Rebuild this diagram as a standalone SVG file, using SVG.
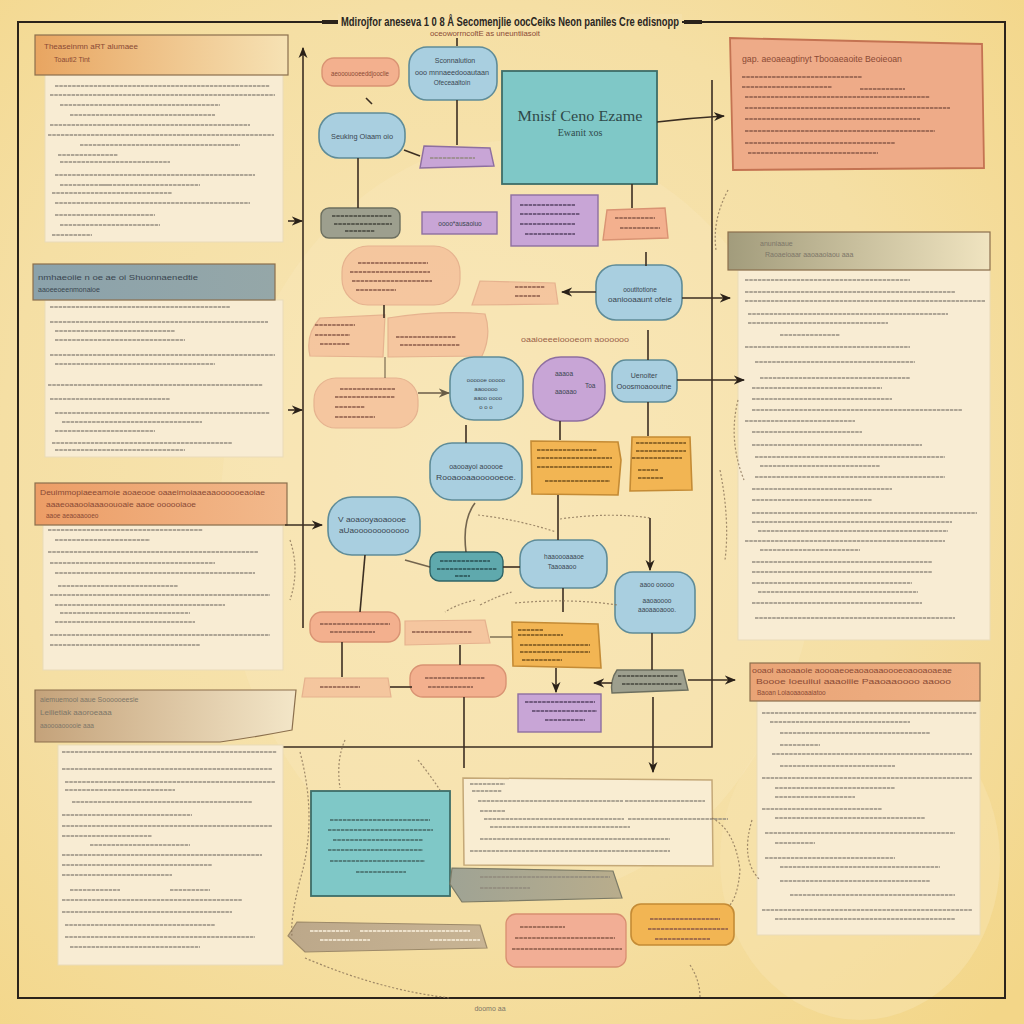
<svg xmlns="http://www.w3.org/2000/svg" width="1024" height="1024" viewBox="0 0 1024 1024">
<defs>
<radialGradient id="bg" cx="0.45" cy="0.45" r="0.75">
<stop offset="0" stop-color="#f8e6b6"/><stop offset="0.6" stop-color="#f5dfa4"/><stop offset="1" stop-color="#f3d688"/>
</radialGradient>
<linearGradient id="h1" x1="0" x2="1"><stop offset="0" stop-color="#e8a561"/><stop offset="1" stop-color="#f6e2b4"/></linearGradient>
<linearGradient id="h2" x1="0" x2="1"><stop offset="0" stop-color="#8ba2ab"/><stop offset="1" stop-color="#95a7a8"/></linearGradient>
<linearGradient id="h3" x1="0" x2="1"><stop offset="0" stop-color="#ec9d66"/><stop offset="1" stop-color="#f2b98c"/></linearGradient>
<linearGradient id="h4" x1="0" x2="1"><stop offset="0" stop-color="#c4a27a"/><stop offset="1" stop-color="#f3e6c8"/></linearGradient>
<linearGradient id="h5" x1="0" x2="1"><stop offset="0" stop-color="#a29c7c"/><stop offset="1" stop-color="#f0e4c0"/></linearGradient>
<linearGradient id="h6" x1="0" x2="1"><stop offset="0" stop-color="#e9a476"/><stop offset="1" stop-color="#efb084"/></linearGradient>
<linearGradient id="tan" x1="0" x2="1"><stop offset="0" stop-color="#bca88a"/><stop offset="1" stop-color="#c8b494"/></linearGradient>
<linearGradient id="gry" x1="0" x2="1"><stop offset="0" stop-color="#9fa394"/><stop offset="1" stop-color="#b9ad8c"/></linearGradient>
<marker id="ar" viewBox="0 0 10 10" refX="9" refY="5" markerWidth="7" markerHeight="7" orient="auto-start-reverse"><path d="M0,1 L10,5 L0,9 L3,5z" fill="#2a2118"/></marker>
<style>
.frame{fill:none;stroke:#2b231b;stroke-width:2}
.panel{fill:#f8ecd3;stroke:#eadbb8;stroke-width:1}
.hdr{stroke:#8b6f4d;stroke-width:1.2}
.tl{fill:none;stroke:#8f887a;stroke-width:2.2;stroke-dasharray:3.5 0.8;opacity:0.7}
.tlr{fill:none;stroke:#8a5a48;stroke-width:2.2;stroke-dasharray:3.5 0.8;opacity:0.75}
.blue{fill:#a9cfe0;stroke:#5f8c98;stroke-width:1.6}
.teal{fill:#7fc8c7;stroke:#3e6d68;stroke-width:1.8}
.purple{fill:#c8a5d6;stroke:#8e6fa0;stroke-width:1.4}
.salmon{fill:#f3b08e;stroke:#d99373;stroke-width:1.4}
.salmonf{fill:#f4bc98;stroke:#e0a283;stroke-width:1.2;opacity:0.75}
.orange{fill:#f2b553;stroke:#c48b35;stroke-width:1.6}
.gray{fill:#9d9f8e;stroke:#6c6f5f;stroke-width:1.4}
.c{fill:none;stroke:#3b2e22;stroke-width:1.6}
.cf{fill:none;stroke:#8a7358;stroke-width:1.2;stroke-dasharray:2 2;opacity:0.8}
.t{font-family:'Liberation Sans',Arial,sans-serif;fill:#3a4650}
.tr{font-family:'Liberation Sans',Arial,sans-serif;fill:#8a4a35}
.tg{font-family:'Liberation Sans',Arial,sans-serif;fill:#7d7668}
</style>
</defs>
<rect width="1024" height="1024" fill="url(#bg)"/>
<ellipse cx="860" cy="860" rx="140" ry="160" fill="#f8e4b0" opacity="0.5"/>
<ellipse cx="520" cy="520" rx="300" ry="380" fill="#f9e8bc" opacity="0.35"/>

<g id="frame">
<rect x="18" y="22" width="987" height="976" class="frame" stroke-width="1.6"/>
<rect x="338" y="14" width="344" height="16" fill="#f5e0a8"/>
<path d="M322,22h16M684,22h18" stroke="#2b231b" stroke-width="4"/>
<text x="510" y="26" text-anchor="middle" font-family="'Liberation Sans',Arial,sans-serif" fill="#2a2622" font-size="12" font-weight="bold" textLength="338" lengthAdjust="spacingAndGlyphs">Mdirojfor aneseva  1 0 8 Å Secomenjlie oocCeiks  Neon paniles  Cre edisnopp</text>
<text x="485" y="36" text-anchor="middle" class="tr" font-size="7" textLength="110" lengthAdjust="spacingAndGlyphs">oceoworrncoſtE  as uneuntiiasoit</text>
<path d="M303,628V48" class="c" stroke-width="2" marker-end="url(#ar)"/>
<path d="M278,747H712V80" class="c" stroke-width="2"/>
<text x="490" y="1011" text-anchor="middle" class="tg" font-size="7">doomo aa</text>
</g>

<!-- left panels -->
<g id="panel-l1">
<rect x="45" y="74" width="238" height="168" class="panel"/>
<rect x="35" y="35" width="253" height="40" fill="url(#h1)" class="hdr"/>
<text x="44" y="49" class="tr" font-size="8" fill="#b86a3a">Theaseinmn aRT alumaee</text>
<text x="54" y="62" class="tr" font-size="7" fill="#b87a4a">Toautl2 Tint</text>
<path class="tl" d="M55,86h215M50,95h225M60,105h160M70,115h145M50,125h200M48,135h226M80,145h160M58,155h60M60,162h110M55,175h200M60,185h50M100,185h100M52,193h120M55,203h195M55,215h100M60,225h100M52,235h40"/>
</g>
<g id="panel-l2">
<rect x="45" y="300" width="238" height="157" class="panel"/>
<rect x="33" y="264" width="242" height="36" fill="url(#h2)" class="hdr" stroke="#6f8188"/>
<text x="38" y="280" class="t" font-size="7.5" fill="#f3efe6" textLength="160" lengthAdjust="spacingAndGlyphs">nmhaeoiie n oe ae oi Shuonnaenedtie</text>
<text x="38" y="292" class="t" font-size="7" fill="#f3efe6">aaoeeoeenmonaioe</text>
<path class="tl" d="M50,307h180M50,322h218M55,331h120M55,340h130M50,355h225M55,364h160M48,385h215M50,399h120M55,413h215M62,422h140M55,431h100M52,443h180M55,450h130"/>
</g>
<g id="panel-l3">
<rect x="43" y="525" width="240" height="145" class="panel"/>
<rect x="35" y="483" width="252" height="42" fill="url(#h3)" class="hdr"/>
<text x="40" y="495" class="tr" font-size="7.5" textLength="225" lengthAdjust="spacingAndGlyphs">Deuimmopiaeeamoie aoaeooe oaaeimoiaaeaaoooooeaoiae</text>
<text x="46" y="507" class="tr" font-size="7" textLength="150" lengthAdjust="spacingAndGlyphs">aaaeoaaooiaaaoouoaie aaoe oooooiaoe</text>
<text x="46" y="518" class="tr" font-size="6.5">aaoe aeaoaaooeo</text>
<path class="tl" d="M48,530h155M55,540h95M48,552h210M50,563h165M55,573h200M58,586h120M50,595h220M55,605h170M60,613h130M55,622h140M50,635h220M50,645h150"/>
</g>
<g id="panel-l4">
<rect x="58" y="745" width="225" height="220" class="panel"/>
<path d="M35,690H296L292,730Q250,738 220,742H35Z" fill="url(#h4)" class="hdr"/>
<text x="40" y="702" class="tg" font-size="7" fill="#8a6a4a">aiemuemooi aaue Soooooeesie</text>
<text x="40" y="715" class="tg" font-size="8" fill="#9a7a5a">Leilietiak aaoroeaaa</text>
<text x="40" y="728" class="tg" font-size="6.5" fill="#9a7a5a">aaoooaooooie aaa</text>
<path class="tl" d="M62,752h215M62,769h210M65,782h210M65,790h110M72,802h180M62,815h130M62,826h210M62,836h90M90,845h100M62,855h200M62,865h150M62,875h110M70,890h50M170,890h40M62,900h180M62,912h170M65,925h150M65,937h190M70,947h130"/>
</g>

<!-- right panels -->
<g id="panel-r1">
<path d="M730,38L982,44L984,168L733,170Z" fill="#eeab88" stroke="#c47352" stroke-width="1.8"/>
<text x="742" y="62" class="tr" font-size="8.5" textLength="160" lengthAdjust="spacingAndGlyphs">gap. aeoaeagtinyt  Tbooaeaoite Beoieoan</text>
<path class="tlr" d="M742,77h120M742,87h90M860,89h45M745,97h185M745,108h205M745,119h175M745,131h190M745,143h150M748,153h130"/>
</g>
<g id="panel-r2">
<rect x="738" y="270" width="252" height="370" class="panel"/>
<rect x="728" y="232" width="262" height="38" fill="url(#h5)" class="hdr" stroke="#6e6a52"/>
<text x="760" y="246" class="tg" font-size="7" fill="#f2ead6">anuniaaue</text>
<text x="765" y="257" class="tg" font-size="7" fill="#f2ead6">Raoaeioaar  aaoaaoiaou aaa</text>
<path class="tl" d="M745,280h165M745,292h210M745,301h240M748,314h200M748,323h140M780,335h60M745,347h165M755,362h160M760,378h150M752,388h130M752,399h140M752,410h210M745,421h110M752,432h110M752,445h170M755,457h190M760,466h120M755,477h190M752,489h140M752,500h120M752,513h225M752,522h200M758,531h190M745,541h200M760,550h100M752,562h180M752,572h180M752,583h160M758,592h160M752,603h170M755,618h200"/>
</g>
<g id="panel-r3">
<rect x="757" y="700" width="223" height="235" class="panel"/>
<rect x="750" y="663" width="230" height="38" fill="url(#h6)" class="hdr" stroke="#a8744f"/>
<text x="752" y="673" class="tr" font-size="6.5" textLength="200" lengthAdjust="spacingAndGlyphs">ooaoi aaoaaoie aoooaeoeaoaoaaoooeoaooaoaeae</text>
<text x="756" y="684" class="tr" font-size="6.5" textLength="195" lengthAdjust="spacingAndGlyphs">Boooe Ioeuiiui aaaoiiie  Paaoaaoooo aaooo</text>
<text x="757" y="695" class="tr" font-size="6.5">Baoan Loiaoaaoaaiatoo</text>
<path class="tl" d="M762,713h215M770,722h140M780,733h150M780,745h40M772,754h200M780,766h115M762,778h210M775,788h120M775,797h80M762,809h120M775,818h150M765,833h190M775,843h40M765,858h130M780,867h160M780,881h150M790,895h165M762,910h210M775,919h180"/>
</g>

<!-- bottom middle -->
<g id="bt-teal">
<rect x="311" y="791" width="139" height="105" class="teal" stroke="#5b7a72"/>
<path class="tl" style="stroke:#40615f" d="M330,820h100M328,830h105M333,840h90M328,850h95M330,861h95M356,872h50"/>
</g>
<g id="bt-note">
<path d="M463,778L712,780L713,866L464,865Z" fill="#f9edd2" stroke="#c4a877" stroke-width="1.5"/>
<path class="tl" d="M470,784h35M472,791h30M478,801h145M625,801h80M480,811h25M484,819h140M628,819h100M490,827h140M480,839h190M470,851h200"/>
</g>
<g id="bt-gray"><path d="M452,868L613,871L622,898L462,902L450,884Z" fill="url(#gry)" stroke="#7b7a66" stroke-width="1.2"/><path class="tl" d="M480,877h130M480,888h50"/></g>
<g id="bt-tan"><path d="M297,922L480,925L487,948L305,952L288,936Z" fill="url(#tan)" stroke="#9d8a6a" stroke-width="1.2"/><path class="tl" style="stroke:#fff6e4" d="M310,931h40M360,931h110M320,940h50M430,940h50"/></g>
<g id="bt-pink"><rect x="506" y="914" width="120" height="53" rx="10" fill="#f2ae95" stroke="#d88e70" stroke-width="1.3"/><path class="tlr" d="M520,927h45M515,938h100M512,949h110"/></g>
<g id="bt-orange"><rect x="631" y="904" width="103" height="41" rx="10" class="orange"/><path class="tlr" d="M650,919h70M648,929h80M655,939h55"/></g>

<!-- inner nodes -->
<g id="n1"><rect x="322" y="58" width="77" height="28" rx="12" class="salmon"/><text x="360" y="76" text-anchor="middle" class="tr" font-size="7" textLength="58" lengthAdjust="spacingAndGlyphs">aeooouooeeddjooclie</text></g>
<g id="n2"><rect x="409" y="47" width="88" height="53" rx="18" class="blue"/>
<text x="455" y="63" text-anchor="middle" class="t" font-size="7">Sconnalution</text>
<text x="452" y="75" text-anchor="middle" class="t" font-size="6.5" textLength="74" lengthAdjust="spacingAndGlyphs">ooo mnnaeedooautaan</text>
<text x="452" y="85" text-anchor="middle" class="t" font-size="6.5">Ofeceaaltoin</text></g>
<g id="main"><rect x="502" y="71" width="155" height="113" class="teal"/>
<text x="580" y="121" text-anchor="middle" font-family="'Liberation Serif',serif" font-size="15" fill="#2f4a4a" textLength="125" lengthAdjust="spacingAndGlyphs">Mnisf Ceno Ezame</text>
<text x="580" y="136" text-anchor="middle" font-family="'Liberation Serif',serif" font-size="10" fill="#2f4a4a">Ewanit xos</text></g>
<g id="n3"><rect x="319" y="113" width="86" height="45" rx="20" class="blue"/><text x="362" y="139" text-anchor="middle" class="t" font-size="8" textLength="62" lengthAdjust="spacingAndGlyphs">Seuking Oiaam oio</text></g>
<g id="n4"><path d="M424,146L490,148L494,166L420,168Z" class="purple"/><path class="tl" d="M430,158h45"/></g>
<g id="n5"><rect x="321" y="208" width="79" height="30" rx="8" class="gray"/><path class="tl" style="stroke:#3d3f36" d="M332,216h60M334,224h58M345,231h30"/></g>
<g id="n6"><rect x="422" y="212" width="75" height="22" class="purple"/><text x="460" y="226" text-anchor="middle" class="t" font-size="6.5" fill="#4e3c5c">oooo*ausaoiuo</text></g>
<g id="n7"><rect x="511" y="195" width="87" height="51" class="purple"/><path class="tl" style="stroke:#4e3c5c" d="M520,205h55M520,214h60M520,224h55M525,234h50"/></g>
<g id="n8"><path d="M607,210L665,208L668,238L603,240Z" class="salmon"/><path class="tlr" d="M615,218h40M620,228h40"/></g>
<g id="n9"><rect x="342" y="246" width="118" height="59" rx="26" class="salmonf"/><path class="tlr" d="M358,263h70M350,272h80M352,281h80M356,290h40"/></g>
<g id="n10"><path d="M480,281L555,283L558,304L472,305Z" class="salmonf" opacity="0.6"/><path class="tlr" d="M515,287h30M515,296h25"/></g>
<g id="n11"><rect x="596" y="265" width="86" height="55" rx="20" class="blue"/>
<text x="640" y="292" text-anchor="middle" class="t" font-size="6.5">ooutitotione</text>
<text x="640" y="302" text-anchor="middle" class="t" font-size="6.5" textLength="64" lengthAdjust="spacingAndGlyphs">oaniooaaunt ofeie</text></g>
<g id="n12"><path d="M320,318L385,315L383,357L310,356Q305,335 320,318Z" class="salmonf"/><path class="tlr" d="M315,325h40M315,335h35M320,344h30"/></g>
<g id="n13"><path d="M388,318Q440,310 485,314Q492,335 482,356L388,357Z" class="salmonf"/><path class="tlr" d="M396,337h60M400,345h60"/></g>
<text x="575" y="342" text-anchor="middle" class="tr" font-size="7" opacity="0.85" textLength="108" lengthAdjust="spacingAndGlyphs">oaaioeeeioooeom aoooooo</text>
<g id="n14"><rect x="314" y="378" width="104" height="50" rx="22" class="salmonf"/><path class="tlr" d="M340,389h55M335,397h60M335,407h30M335,417h40"/></g>
<g id="n15"><rect x="450" y="357" width="73" height="63" rx="24" class="blue"/>
<text x="486" y="382" text-anchor="middle" class="t" font-size="6">oooooe ooooo</text>
<text x="486" y="391" text-anchor="middle" class="t" font-size="6">aaooooo</text>
<text x="488" y="400" text-anchor="middle" class="t" font-size="6">aaoo oooo</text>
<text x="486" y="409" text-anchor="middle" class="t" font-size="6">o o o</text></g>
<g id="n16"><rect x="533" y="357" width="72" height="64" rx="28" class="purple"/>
<text x="555" y="376" class="t" font-size="6.5" fill="#5a4a66">aaaoa</text>
<text x="555" y="394" class="t" font-size="6.5" fill="#5a4a66">aaoaao</text>
<text x="585" y="388" class="t" font-size="6.5" fill="#5a4a66">Toa</text></g>
<g id="n17"><rect x="612" y="360" width="65" height="42" rx="14" class="blue"/>
<text x="644" y="378" text-anchor="middle" class="t" font-size="7">Uenoiter</text>
<text x="644" y="389" text-anchor="middle" class="t" font-size="6.5" textLength="55" lengthAdjust="spacingAndGlyphs">Ooosmoaooutne</text></g>
<g id="n18"><rect x="430" y="443" width="92" height="57" rx="22" class="blue"/>
<text x="476" y="469" text-anchor="middle" class="t" font-size="7">oaooayoi aooooe</text>
<text x="476" y="480" text-anchor="middle" class="t" font-size="7" textLength="80" lengthAdjust="spacingAndGlyphs">Rooaooaaoooooeoe.</text></g>
<g id="n19"><path d="M531,441L618,442L621,460L618,495L532,494Z" class="orange"/><path class="tl" style="stroke:#6b4a1a" d="M537,450h60M537,458h75M537,467h75M545,481h65"/></g>
<g id="n20"><path d="M632,437L690,437L692,490L630,491Z" class="orange"/><path class="tl" style="stroke:#6b4a1a" d="M636,443h50M636,451h50M632,458h50M638,470h20M638,478h25"/></g>
<g id="n21"><rect x="328" y="497" width="92" height="58" rx="24" class="blue"/>
<text x="372" y="522" text-anchor="middle" class="t" font-size="7" textLength="68" lengthAdjust="spacingAndGlyphs">V aoaooyaoaoooe</text>
<text x="374" y="533" text-anchor="middle" class="t" font-size="7" textLength="70" lengthAdjust="spacingAndGlyphs">aUaoooooooooooo</text></g>
<g id="n22"><rect x="430" y="552" width="73" height="29" rx="9" fill="#5fa9ad" stroke="#2f6467" stroke-width="1.4"/><path class="tl" style="stroke:#24484a" d="M440,561h50M437,569h60M455,576h15"/></g>
<g id="n23"><rect x="520" y="540" width="87" height="48" rx="18" class="blue"/>
<text x="564" y="559" text-anchor="middle" class="t" font-size="6.5">haaoooaaaoe</text>
<text x="562" y="569" text-anchor="middle" class="t" font-size="6.5">Taaoaaoo</text></g>
<g id="n24"><rect x="615" y="572" width="80" height="61" rx="18" class="blue"/>
<text x="657" y="587" text-anchor="middle" class="t" font-size="6.5">aaoo ooooo</text>
<text x="657" y="603" text-anchor="middle" class="t" font-size="6.5">aaoaoooo</text>
<text x="657" y="612" text-anchor="middle" class="t" font-size="6.5">aaoaaoaooo.</text></g>
<g id="n25"><rect x="310" y="612" width="90" height="30" rx="12" class="salmon"/><path class="tlr" d="M320,624h70M330,632h45"/></g>
<g id="n26"><path d="M405,621L485,620L490,643L405,645Z" class="salmonf"/><path class="tlr" d="M412,632h60"/></g>
<g id="n27"><path d="M512,622L598,624L601,668L513,666Z" class="orange"/><path class="tl" style="stroke:#6b4a1a" d="M518,630h25M518,635h45M520,645h70M520,652h70M522,660h40"/></g>
<g id="n28"><path d="M305,678L388,678L391,697L302,697Z" class="salmonf"/><path class="tlr" d="M320,687h40"/></g>
<g id="n29"><rect x="410" y="665" width="96" height="32" rx="13" class="salmon"/><path class="tlr" d="M425,678h60M428,687h45"/></g>
<g id="n30"><path d="M617,670L683,670L688,690L612,693Q610,680 617,670Z" class="gray"/><path class="tl" style="stroke:#3d3f36" d="M618,676h60M622,684h60"/></g>
<g id="n31"><rect x="518" y="694" width="83" height="38" class="purple" stroke="#6e5a78"/><path class="tl" style="stroke:#4e3c5c" d="M525,702h70M532,711h65M545,720h40"/></g>

<g id="connectors">
<path class="c" d="M288,221H302" marker-end="url(#ar)"/>
<path class="c" d="M288,410H302" marker-end="url(#ar)"/>
<path class="c" d="M285,525H322" marker-end="url(#ar)"/>
<path class="c" d="M657,122Q690,118 724,116" marker-end="url(#ar)"/>
<path class="c" d="M457,100V145"/>
<path class="c" d="M457,38V46"/>
<path class="c" d="M358,158V208"/>
<path class="c" d="M404,150L420,156" stroke-width="2"/>
<path class="c" d="M372,104l-6,-6"/>
<path class="c" d="M632,184V208"/>
<path class="c" d="M596,292H562" marker-end="url(#ar)"/>
<path class="c" d="M646,252V266"/>
<path class="c" d="M682,298H730" marker-end="url(#ar)"/>
<path class="c" d="M677,380H744" marker-end="url(#ar)"/>
<path class="c" d="M648,330V360"/>
<path class="c" d="M648,402V436"/>
<path class="c" d="M384,305V318"/>
<path class="c" d="M385,357V378" opacity="0.5"/>
<path class="c" d="M418,393H449" marker-end="url(#ar)" opacity="0.7"/>
<path class="c" d="M466,425V443"/>
<path class="c" d="M560,421V440"/>
<path class="c" d="M365,555L360,612"/>
<path class="c" d="M405,560L430,567" opacity="0.7"/>
<path class="c" d="M503,567H520"/>
<path class="c" d="M466,552Q462,520 475,503" opacity="0.7"/>
<path class="cf" d="M478,515Q520,520 556,532"/>
<path class="c" d="M558,495V540"/>
<path class="cf" d="M560,519Q610,512 650,518"/>
<path class="c" d="M650,518V570" marker-end="url(#ar)"/>
<path class="c" d="M563,588V612"/>
<path class="cf" d="M475,600Q455,605 445,612"/>
<path class="cf" d="M480,605Q500,595 512,592"/>
<path class="cf" d="M515,603Q570,598 618,605"/>
<path class="c" d="M342,642V677"/>
<path class="c" d="M390,687H412"/>
<path class="c" d="M460,645V665"/>
<path class="c" d="M490,637H512" opacity="0.6"/>
<path class="c" d="M556,668V692" marker-end="url(#ar)"/>
<path class="c" d="M612,683H594" marker-end="url(#ar)"/>
<path class="c" d="M688,680H735" marker-end="url(#ar)"/>
<path class="c" d="M652,633V670"/>
<path class="c" d="M653,697V772" marker-end="url(#ar)"/>
<path class="c" d="M464,697V768"/>
<path class="cf" d="M300,752Q318,820 300,880Q290,920 292,936"/>
<path class="cf" d="M305,958Q380,990 450,998"/>
<path class="cf" d="M712,818Q735,830 740,870Q738,895 730,905"/>
<path class="cf" d="M690,965Q700,980 700,998"/>
<path class="cf" d="M345,740Q336,760 340,788"/>
<path class="cf" d="M418,760Q430,775 440,790"/>
<path class="cf" d="M720,470Q730,520 725,560"/>
<path class="cf" d="M728,190Q712,220 716,250"/>
<path class="cf" d="M738,400Q728,440 744,480"/>
<path class="cf" d="M752,820Q740,860 760,880"/>
<path class="cf" d="M290,540Q300,570 290,600"/>
</g>
</svg>
